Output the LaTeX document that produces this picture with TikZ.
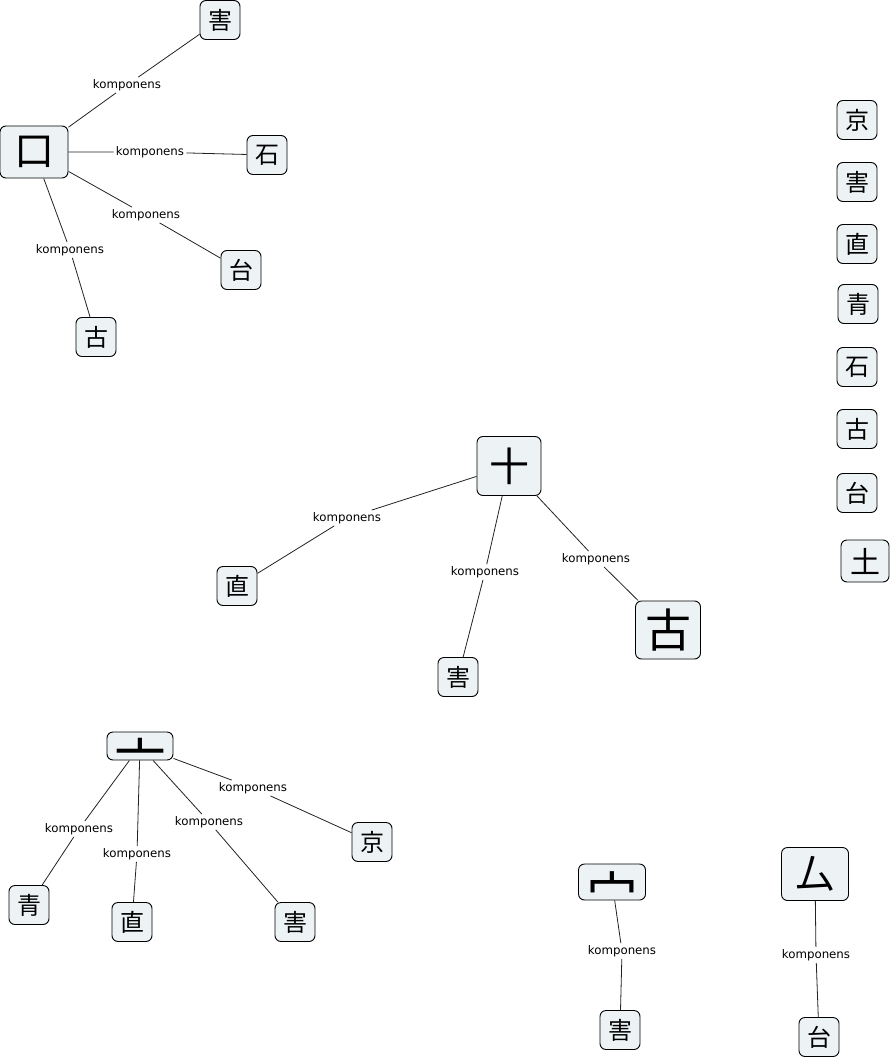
\documentclass[tikz,border=0pt]{standalone}
\usepackage{fontspec}
\setmainfont{DejaVu Sans}
\newfontfamily\cjk{Noto Sans CJK JP}
\definecolor{boxfill}{HTML}{EDF3F5}
\definecolor{edgecol}{HTML}{222222}
\tikzset{
  ch/.style={draw=black, line width=0.9pt, fill=boxfill, rounded corners=6pt,
    inner sep=0pt, minimum width=40pt, minimum height=39pt,
    font=\cjk\fontsize{24}{24}\selectfont},
  big/.style={ch, font=\cjk\fontsize{40}{40}\selectfont},
  clipped/.style 2 args={ch, path picture={\node[inner sep=0pt, font=\cjk\fontsize{52}{52}\selectfont]
      at ([yshift=#2]path picture bounding box.center) {#1};}},
  rel/.style={draw=edgecol, line width=0.8pt},
  lbl/.style={inner sep=2pt, font=\fontsize{11.8}{12}\selectfont, text=black}
}
\begin{document}
\begin{tikzpicture}[x=1pt,y=-1pt]
\useasboundingbox (0,0) rectangle (892,1059);
% group 1
\node[big, minimum width=68pt, minimum height=52pt] (kou) at (34,152) {口};
\node[ch] (g1hai) at (220,20) {害};
\node[ch] (g1seki) at (267,155) {石};
\node[ch] (g1dai) at (241,270) {台};
\node[ch] (g1ko) at (96,337) {古};
% right column
\node[ch] (rkyo) at (857,120) {京};
\node[ch] (rhai) at (857,182) {害};
\node[ch] (rchoku) at (857,244) {直};
\node[ch] (rsei) at (858,304) {青};
\node[ch] (rseki) at (857,367) {石};
\node[ch] (rko) at (857,429) {古};
\node[ch] (rdai) at (857,493) {台};
\node[ch, minimum width=48pt, minimum height=42pt, font=\cjk\fontsize{30}{30}\selectfont] (rdo) at (865,561) {土};
% group 2
\node[big, minimum width=64pt, minimum height=59pt] (juu) at (509,466) {十};
\node[ch] (g2choku) at (237,586) {直};
\node[ch] (g2hai) at (458,677) {害};
\node[big, minimum width=65pt, minimum height=58pt, font=\cjk\fontsize{46}{46}\selectfont] (g2ko) at (668,630) {古};
% group 3
\node[clipped={亠}{-9pt}, minimum width=66pt, minimum height=28pt] (nabe) at (140,746) {};
\node[ch] (g3sei) at (29,905) {青};
\node[ch] (g3choku) at (132,922) {直};
\node[ch] (g3hai) at (295,922) {害};
\node[ch] (g3kyo) at (372,842) {京};
% group 4
\node[clipped={宀}{-8pt}, minimum width=67pt, minimum height=36pt] (ukan) at (612,882) {};
\node[ch] (g4hai) at (620,1030) {害};
\node[big, minimum width=67pt, minimum height=53pt] (mu) at (815,874) {厶};
\node[ch] (g4dai) at (819,1037) {台};
% labels
\node[lbl] (l1) at (127,85) {komponens};
\node[lbl] (l2) at (150,152) {komponens};
\node[lbl] (l3) at (146,215) {komponens};
\node[lbl] (l4) at (70,250) {komponens};
\node[lbl] (l5) at (347,518) {komponens};
\node[lbl] (l6) at (485,572) {komponens};
\node[lbl] (l7) at (596,559) {komponens};
\node[lbl] (l8) at (79,829) {komponens};
\node[lbl] (l9) at (137,854) {komponens};
\node[lbl] (l10) at (209,822) {komponens};
\node[lbl] (l11) at (253,788) {komponens};
\node[lbl] (l12) at (622,951) {komponens};
\node[lbl] (l13) at (816,955) {komponens};
% edges
\draw[rel] (kou) -- (l1) -- (g1hai);
\draw[rel] (kou) -- (l2) -- (g1seki);
\draw[rel] (kou) -- (l3) -- (g1dai);
\draw[rel] (kou) -- (l4) -- (g1ko);
\draw[rel] (juu) -- (l5) -- (g2choku);
\draw[rel] (juu) -- (l6) -- (g2hai);
\draw[rel] (juu) -- (l7) -- (g2ko);
\draw[rel] (nabe) -- (l8) -- (g3sei);
\draw[rel] (nabe) -- (l9) -- (g3choku);
\draw[rel] (nabe) -- (l10) -- (g3hai);
\draw[rel] (nabe) -- (l11) -- (g3kyo);
\draw[rel] (ukan) -- (l12) -- (g4hai);
\draw[rel] (mu) -- (l13) -- (g4dai);
\end{tikzpicture}
\end{document}
